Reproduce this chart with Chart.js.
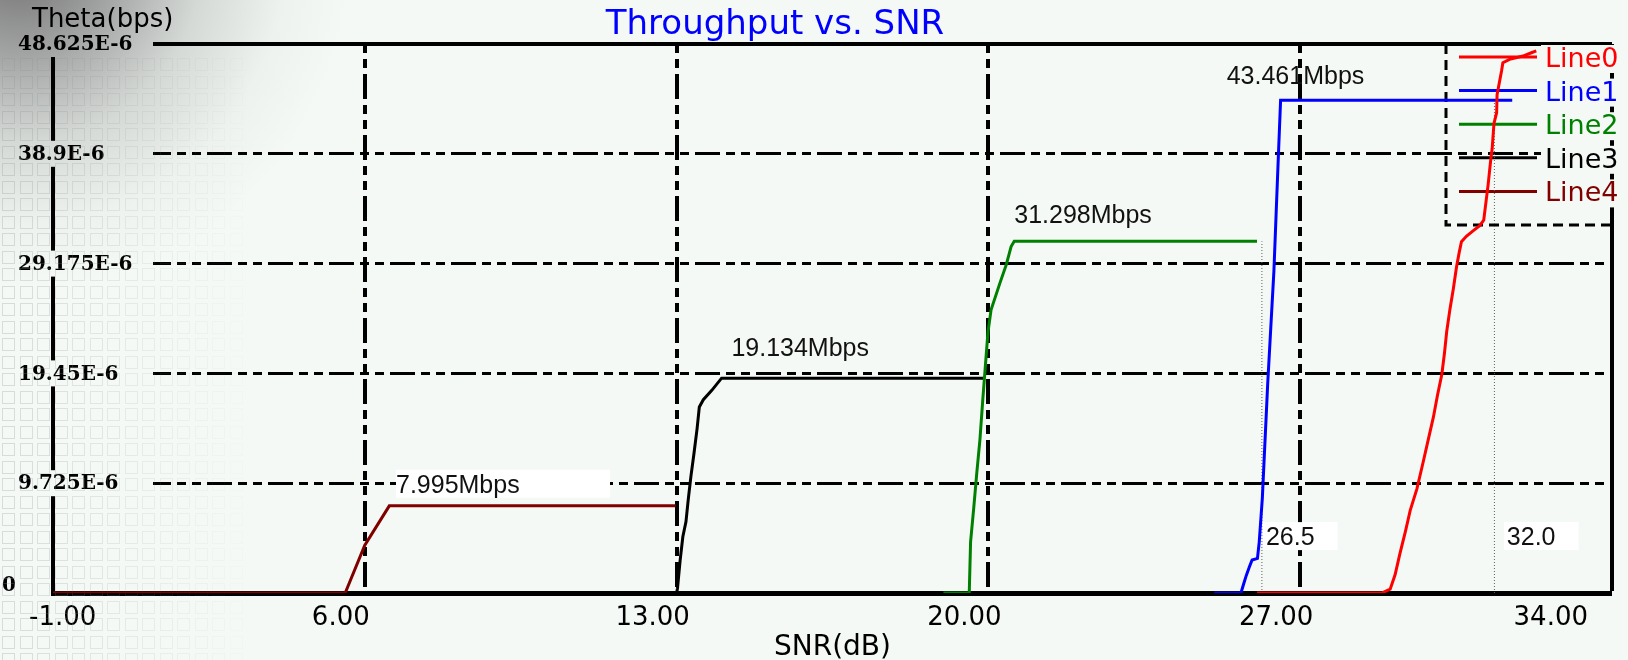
<!DOCTYPE html>
<html>
<head>
<meta charset="utf-8">
<title>Throughput vs. SNR</title>
<script src="https://cdn.jsdelivr.net/npm/chart.js@4.4.0/dist/chart.umd.min.js"></script>
<style>
	html, body { margin: 0; padding: 0; background: #F4F9F5; }
	canvas { display: block; }
</style>
</head>
<body>
<canvas id="myChart" width="1628" height="660"></canvas>
<script>
var chartTitle = "Throughput vs. SNR";
var yTitle = "Theta(bps)";
var xTitle = "SNR(dB)";

var xTickValues = [-1, 6, 13, 20, 27, 34];
var yTickValues = [0, 9.725, 19.45, 29.175, 38.9, 48.625];
var yTickLabels = ["0", "9.725E-6", "19.45E-6", "29.175E-6", "38.9E-6", "48.625E-6"];

var lineNames = ["Line0", "Line1", "Line2", "Line3", "Line4"];

// values (y in the axis units shown)
var line0X = [26.03, 28.68, 28.83, 29.02, 29.13, 29.24, 29.36, 29.47, 29.62, 29.77, 29.88, 29.99, 30.08, 30.18, 30.24, 30.29, 30.36, 30.44, 30.51, 30.57, 30.62, 30.73, 30.88, 31.03, 31.12, 31.16, 31.22, 31.27, 31.31, 31.35, 31.41, 31.42, 31.52, 31.55, 31.70, 32.00, 32.19, 32.30];
var line0Y = [0, 0, 0, 0.34, 1.61, 3.51, 5.42, 7.32, 9.22, 11.76, 13.67, 15.57, 17.47, 19.38, 21.28, 23.19, 25.09, 26.99, 28.90, 30.17, 31.12, 31.60, 32.08, 32.54, 33.02, 34.29, 36.19, 38.10, 39.37, 41.59, 42.54, 44.13, 46.24, 46.97, 47.27, 47.56, 47.85, 48.01];

var line1X = [25.07, 25.67, 25.73, 25.79, 25.86, 25.92, 26.04, 26.08, 26.15, 26.21, 26.27, 26.34, 26.41, 26.46, 26.51, 26.56, 31.76];
var line1Y = [0, 0, 0.80, 1.56, 2.32, 2.92, 3.07, 4.51, 8.40, 13.46, 18.50, 23.52, 28.53, 33.63, 38.72, 43.65, 43.65];

var line2X = [18.99, 19.57, 19.60, 19.67, 19.74, 19.81, 19.87, 19.93, 19.99, 20.06, 20.26, 20.40, 20.51, 20.58, 26.03];
var line2Y = [0, 0, 4.54, 7.49, 10.67, 13.59, 16.91, 20.01, 23.10, 25.08, 27.47, 29.06, 30.68, 31.15, 31.15];

var line3X = [12.04, 13.00, 13.02, 13.08, 13.14, 13.21, 13.26, 13.32, 13.39, 13.46, 13.51, 13.60, 13.79, 14.01, 19.92];
var line3Y = [0, 0, 0.42, 2.92, 4.98, 6.30, 8.22, 10.28, 12.35, 14.56, 16.47, 17.12, 17.95, 19.03, 19.03];

var line4X = [-1, 5.56, 6.00, 6.55, 12.98];
var line4Y = [0, 0, 4.24, 7.72, 7.72];

var peakText = ["7.995Mbps", "19.134Mbps", "31.298Mbps", "43.461Mbps"];
var peakX = [6.70, 14.23, 20.58, 25.35];
var peakY = [9.68, 21.78, 33.60, 45.90];

var markerX = [26.14, 31.36];
var markerTop = [31.15, 43.65];
var markerText = ["26.5", "32.0"];
var markerTextX = [26.14, 31.55];
var markerTextY = 5.04;

var lineColors = ["#FF0000", "#0000FF", "#008000", "#000000", "#800000"];
var bgColor = "#F4F9F5";
var gridDash = [9, 6, 9, 6, 25, 6];
var peakBoxWidth = [214, 0, 0, 0];

var canvas = document.getElementById("myChart");
var ctx = canvas.getContext("2d");

function makeBgGradient(c) {
	var g = c.createRadialGradient(20, -40, 0, 20, -40, 330);
	g.addColorStop(0, "#6f6f6f");
	g.addColorStop(0.3, "#a5a7a6");
	g.addColorStop(0.55, "#d5d9d6");
	g.addColorStop(0.8, "#edf2ee");
	g.addColorStop(1, bgColor);
	return g;
}

var series = [[line0X, line0Y], [line1X, line1Y], [line2X, line2Y], [line3X, line3Y], [line4X, line4Y]];
var datasets = series.map(function(s, i) {
	return {
		label: lineNames[i],
		data: s[0].map(function(x, j) { return {x: x, y: s[1][j]}; }),
		borderColor: lineColors[i],
		backgroundColor: lineColors[i],
		borderWidth: 3,
		pointRadius: 0,
		showLine: true,
		fill: false,
		tension: 0
	};
});
markerX.forEach(function(mx, i) {
	datasets.push({
		label: "marker" + i,
		isMarker: true,
		data: [{x: mx, y: 0}, {x: mx, y: markerTop[i]}],
		borderColor: "#606060",
		borderWidth: 1,
		borderDash: [1, 2],
		pointRadius: 0,
		showLine: true,
		fill: false
	});
});

// y tick labels sit inside the plot, over a patch of background that hides the grid
var yLabelPlugin = {
	id: "yLabels",
	beforeDatasetsDraw: function(chart) {
		var c = chart.ctx, ys = chart.scales.y;
		c.save();
		c.font = "bold 20px DejaVu Serif";
		c.textBaseline = "middle";
		c.textAlign = "left";
		yTickValues.forEach(function(v, i) {
			var py = ys.getPixelForValue(v);
			var lx = 18;
			if (v === 0) {
				// the zero label sits at the very edge, just above the axis
				lx = 2;
				py -= 8;
			} else {
				c.fillStyle = makeBgGradient(c);
				c.fillRect(lx - 4, py - 13, 153 - lx + 4, 26);
			}
			c.fillStyle = "#000000";
			c.fillText(yTickLabels[i], lx, py + 1);
		});
		c.restore();
	}
};

var backgroundPlugin = {
	id: "background",
	beforeDraw: function(chart) {
		var c = chart.ctx;
		c.save();
		c.fillStyle = makeBgGradient(c);
		c.fillRect(0, 0, chart.width, chart.height);
		c.restore();
	},
	beforeDatasetsDraw: function(chart) {
		// faint tiles down the left side
		var c = chart.ctx;
		c.save();
		c.lineWidth = 1;
		for (var x = 2; x < 250; x += 17.5) {
			var a = 0.28 * (1 - x / 250);
			c.strokeStyle = "rgba(140,146,142," + a.toFixed(3) + ")";
			for (var y = 58; y < 660; y += 17.5) {
				c.strokeRect(Math.round(x) + 0.5, Math.round(y) + 0.5, 12, 12);
			}
		}
		c.restore();
	}
};

var legendPlugin = {
	id: "boxLegend",
	beforeDatasetsDraw: function(chart) {
		var c = chart.ctx;
		var area = chart.chartArea;
		var left = 1446, bottom = 225;
		c.save();
		c.strokeStyle = "#000000";
		c.lineWidth = 3;
		c.setLineDash([10, 6]);
		c.beginPath();
		c.moveTo(left, area.top);
		c.lineTo(left, bottom);
		c.lineTo(area.right, bottom);
		c.stroke();
		c.setLineDash([]);
		c.font = "27px DejaVu Sans";
		c.textBaseline = "middle";
		c.textAlign = "left";
		var items = chart.data.datasets.filter(function(d) { return !d.isMarker; });
		items.forEach(function(ds, i) {
			var y = 57 + i * 33.6;
			c.fillStyle = bgColor;
			c.fillRect(1541, y - 12, 87, 28);
			c.strokeStyle = ds.borderColor;
			c.lineWidth = 3;
			c.beginPath();
			c.moveTo(1459, y);
			c.lineTo(1537, y);
			c.stroke();
			c.fillStyle = ds.borderColor;
			c.fillText(ds.label, 1545, y + 3);
		});
		c.restore();
	}
};

var labelPlugin = {
	id: "valueLabels",
	afterDatasetsDraw: function(chart) {
		var c = chart.ctx, xs = chart.scales.x, ys = chart.scales.y;
		c.save();
		c.font = "25px Liberation Sans";
		c.textBaseline = "middle";
		c.textAlign = "left";
		peakText.forEach(function(t, i) {
			var px = xs.getPixelForValue(peakX[i]), py = ys.getPixelForValue(peakY[i]);
			if (peakBoxWidth[i]) {
				c.fillStyle = "#FFFFFF";
				c.fillRect(px, py - 14, peakBoxWidth[i], 28);
			}
			c.fillStyle = "#111111";
			c.fillText(t, px, py + 2);
		});
		markerText.forEach(function(t, i) {
			var px = xs.getPixelForValue(markerTextX[i]), py = ys.getPixelForValue(markerTextY);
			var w = c.measureText(t).width;
			c.fillStyle = "#FFFFFF";
			c.fillRect(px + 1, py - 14, w + 26, 28);
			c.fillStyle = "#111111";
			c.fillText(t, px + 4, py + 2);
		});
		c.restore();
	}
};

var titlePlugin = {
	id: "titles",
	afterDraw: function(chart) {
		var c = chart.ctx;
		c.save();
		c.textBaseline = "middle";
		c.textAlign = "center";
		c.fillStyle = "#0000FF";
		c.font = "34px DejaVu Sans";
		c.fillText(chartTitle, 775, 25);
		c.textAlign = "left";
		c.fillStyle = "#000000";
		c.font = "26px DejaVu Sans";
		c.fillText(yTitle, 32, 20);
		c.restore();
	}
};

var myChart = new Chart(ctx, {
	type: "scatter",
	data: { datasets: datasets },
	plugins: [yLabelPlugin, backgroundPlugin, legendPlugin, labelPlugin, titlePlugin],
	options: {
		responsive: false,
		animation: false,
		devicePixelRatio: 1,
		layout: { padding: { left: 53, right: 16, top: 44, bottom: 0 } },
		plugins: {
			legend: { display: false },
			tooltip: { enabled: false },
			title: { display: false }
		},
		scales: {
			x: {
				type: "linear",
				min: -1,
				max: 34,
				afterBuildTicks: function(axis) {
					axis.ticks = xTickValues.map(function(v) { return {value: v}; });
				},
				afterFit: function(axis) {
					axis.height = 67;
				},
				ticks: {
					align: "inner",
					labelOffset: -24,
					padding: 11,
					autoSkip: false,
					maxRotation: 0,
					color: "#000000",
					font: { family: "DejaVu Sans", size: 26, lineHeight: 1.1 },
					callback: function(v) { return Number(v).toFixed(2); }
				},
				grid: {
					color: "#000000",
					drawTicks: false,
					lineWidth: function(c) {
						if (!c.tick || c.tick.value === -1) return 0;
						return 4;
					}
				},
				border: {
					display: true,
					color: "#000000",
					width: 5,
					dash: function(c) {
						return (c.tick && c.tick.value === 34) ? [] : gridDash;
					}
				},
				title: {
					display: true,
					text: xTitle,
					color: "#000000",
					font: { family: "DejaVu Sans", size: 28, lineHeight: 0.9 },
					padding: 0
				}
			},
			y: {
				type: "linear",
				min: 0,
				max: 48.625,
				afterBuildTicks: function(axis) {
					axis.ticks = yTickValues.map(function(v) { return {value: v}; });
				},
				ticks: { display: false },
				grid: {
					color: "#000000",
					drawTicks: false,
					lineWidth: function(c) {
						if (!c.tick || c.tick.value === 0) return 0;
						if (c.tick.value === 48.625) return 4;
						return 3;
					}
				},
				border: {
					display: true,
					color: "#000000",
					width: 4,
					dash: function(c) {
						return (c.tick && c.tick.value === 48.625) ? [] : gridDash;
					}
				}
			}
		}
	}
});
</script>
</body>
</html>
